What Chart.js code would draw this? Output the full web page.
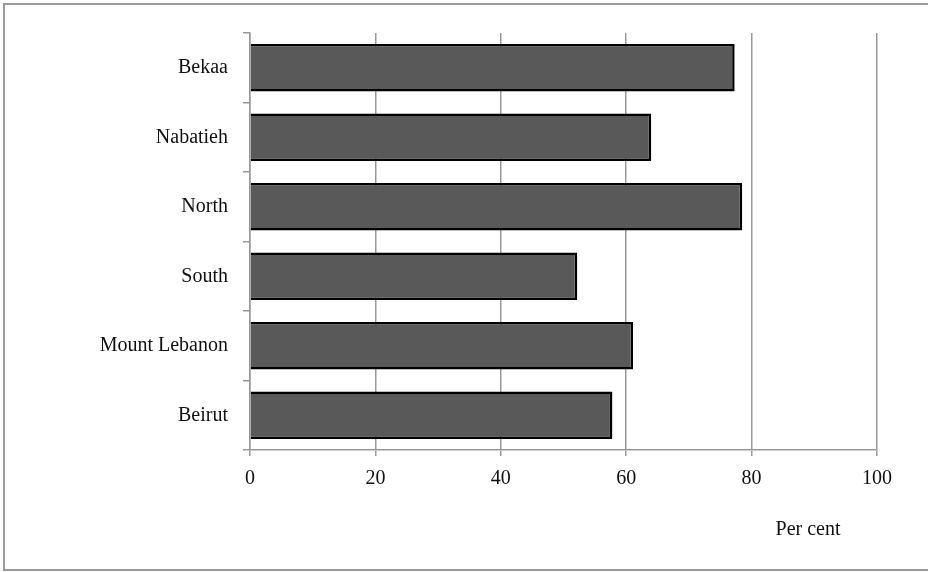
<!DOCTYPE html>
<html>
<head>
<meta charset="utf-8">
<script src="https://cdn.jsdelivr.net/npm/chart.js@4/dist/chart.umd.min.js"></script>
<style>
  html, body { margin: 0; padding: 0; background: #fff; }
  #wrap { width: 928px; height: 572px; position: relative; }
</style>
</head>
<body>
<div id="wrap"><canvas id="c"></canvas></div>
<script>
const categories = ["Bekaa", "Nabatieh", "North", "South", "Mount Lebanon", "Beirut"];
const values = [77.3, 64.0, 78.5, 52.2, 61.1, 57.8];
const xTicks = [0, 20, 40, 60, 80, 100];
const axisTitle = "Per cent";

const FONT = "'Liberation Serif', 'Times New Roman', serif";

const framePlugin = {
  id: 'frame',
  afterDraw(chart) {
    const ctx = chart.ctx;
    ctx.save();
    ctx.strokeStyle = '#9a9a9a';
    ctx.lineWidth = 2;
    ctx.strokeRect(4, 4, 940, 566);
    const xs = chart.scales.x;
    ctx.fillStyle = '#111';
    ctx.font = "20px " + FONT;
    ctx.textAlign = 'center';
    ctx.textBaseline = 'middle';
    ctx.fillText(axisTitle, xs.getPixelForValue(89), 530);
    ctx.restore();
  }
};

new Chart(document.getElementById('c'), {
  type: 'bar',
  data: {
    labels: categories,
    datasets: [{
      data: values,
      backgroundColor: '#595959',
      borderColor: '#000',
      borderWidth: 2.5,
      barPercentage: 0.68,
      categoryPercentage: 1.0
    }]
  },
  options: {
    indexAxis: 'y',
    responsive: true,
    maintainAspectRatio: false,
    animation: false,
    layout: { padding: { top: 33, right: 51, bottom: 0, left: 0 } },
    plugins: { legend: { display: false }, tooltip: { enabled: false } },
    scales: {
      x: {
        min: 0, max: 100,
        afterBuildTicks(scale) { scale.ticks = xTicks.map(v => ({ value: v })); },
        afterFit(scale) { scale.height = 122; },
        grid: { color: '#999', lineWidth: 1.5, tickLength: 6, drawTicks: true },
        border: { color: '#999', width: 1.5 },
        ticks: { color: '#111', font: { family: FONT, size: 20 }, padding: 11 }
      },
      y: {
        afterFit(scale) { scale.width = 250; },
        grid: { drawOnChartArea: false, drawTicks: true, tickLength: 7, color: '#999', lineWidth: 1.5, offset: true },
        border: { color: '#999', width: 1.5 },
        ticks: { color: '#111', font: { family: FONT, size: 20 }, padding: 15 }
      }
    }
  },
  plugins: [framePlugin]
});
</script>
</body>
</html>
